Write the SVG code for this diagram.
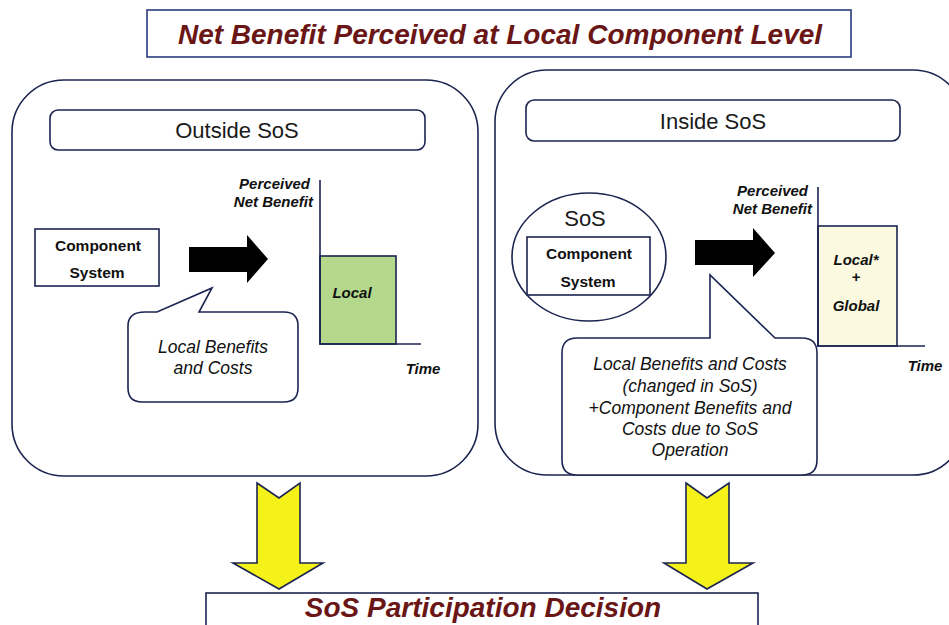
<svg xmlns="http://www.w3.org/2000/svg" width="949" height="625" viewBox="0 0 949 625">
<style>
.ln{fill:none;stroke:#1c2450;stroke-width:1.6}
.box{fill:#fff;stroke:#1c2450;stroke-width:1.6}
.hd{font-family:"Liberation Sans",Arial,sans-serif;font-weight:bold;font-style:italic;fill:#6a1616;text-anchor:middle}
.lbl{font-family:"Liberation Sans",Arial,sans-serif;font-size:22px;fill:#1a1a1a;text-anchor:middle}
.cs{font-family:"Liberation Sans",Arial,sans-serif;font-size:15.5px;font-weight:bold;fill:#111;text-anchor:middle}
.it{font-family:"Liberation Sans",Arial,sans-serif;font-size:17.5px;font-style:italic;fill:#111;text-anchor:middle}
.ax{font-family:"Liberation Sans",Arial,sans-serif;font-size:15px;font-style:italic;font-weight:bold;fill:#111}
.blk{fill:#000}
.yel{fill:#f5f219;stroke:#1c2450;stroke-width:1.6;stroke-linejoin:miter}
</style>
<rect width="949" height="625" fill="#fff"/>
<g id="title">
<rect x="147" y="10" width="704" height="47" fill="#fff" stroke="#2a3a80" stroke-width="1.6"/>
<text class="hd" x="500" y="44" font-size="28">Net Benefit Perceived at Local Component Level</text>
</g>
<g id="outside-panel">
<rect x="12" y="80" width="466" height="396" rx="52" class="box"/>
<rect x="50" y="110" width="375" height="40" rx="8" class="box"/>
<text class="lbl" x="237" y="138">Outside SoS</text>
</g>
<g id="outside-component">
<rect x="35" y="229" width="124" height="57" class="box"/>
<text class="cs" x="98" y="251">Component</text>
<text class="cs" x="97" y="278">System</text>
</g>
<g id="outside-arrow">
<polygon class="blk" points="189,247 247,247 247,235 268,259 247,283 247,272 189,272"/>
</g>
<g id="outside-bubble">
<path class="box" d="M145,312 L157,312 L212,288 L199,312 L284,312 Q298,312 298,326 L298,388 Q298,402 284,402 L142,402 Q128,402 128,388 L128,326 Q128,312 145,312 Z"/>
<text class="it" x="213" y="353">Local Benefits</text>
<text class="it" x="213" y="374">and Costs</text>
</g>
<g id="outside-chart">
<rect x="320" y="256" width="76" height="88" fill="#b4d98c" stroke="#1c2450" stroke-width="1.6"/>
<path class="ln" d="M320,180 L320,344 L421,344"/>
<text class="ax" x="310" y="189" text-anchor="end">Perceived</text>
<text class="ax" x="313" y="207" text-anchor="end">Net Benefit</text>
<text class="ax" x="352" y="298" text-anchor="middle" font-size="16">Local</text>
<text class="ax" x="423" y="374" text-anchor="middle" font-size="16">Time</text>
</g>
<g id="inside-panel">
<rect x="495" y="70" width="470" height="405" rx="52" class="box"/>
<rect x="526" y="100" width="374" height="41" rx="8" class="box"/>
<text class="lbl" x="713" y="129">Inside SoS</text>
</g>
<g id="inside-sos">
<ellipse cx="589" cy="257" rx="77" ry="64" class="box"/>
<text class="lbl" x="585" y="226">SoS</text>
<rect x="527" y="237" width="123" height="58" class="box"/>
<text class="cs" x="589" y="259">Component</text>
<text class="cs" x="588" y="287">System</text>
</g>
<g id="inside-arrow">
<polygon class="blk" points="695,240 753,240 753,228 775,253 753,277 753,265 695,265"/>
</g>
<g id="inside-bubble">
<path class="box" d="M577,338 L710,338 L710,275 L775,338 L802,338 Q817,338 817,353 L817,460 Q817,475 802,475 L577,475 Q562,475 562,460 L562,353 Q562,338 577,338 Z"/>
<text class="it" x="690" y="370">Local Benefits and Costs</text>
<text class="it" x="690" y="392">(changed in SoS)</text>
<text class="it" x="690" y="414">+Component Benefits and</text>
<text class="it" x="690" y="435">Costs due to SoS</text>
<text class="it" x="690" y="456">Operation</text>
</g>
<g id="inside-chart">
<rect x="818" y="226" width="79" height="120" fill="#fbfae0" stroke="#1c2450" stroke-width="1.6"/>
<path class="ln" d="M818,187 L818,346 L925,346"/>
<text class="ax" x="808" y="196" text-anchor="end">Perceived</text>
<text class="ax" x="812" y="214" text-anchor="end">Net Benefit</text>
<text class="ax" x="856" y="265" text-anchor="middle">Local*</text>
<text class="ax" x="856" y="282" text-anchor="middle">+</text>
<text class="ax" x="856" y="311" text-anchor="middle">Global</text>
<text class="ax" x="925" y="371" text-anchor="middle" font-size="16">Time</text>
</g>
<g id="connectors">
<polygon class="yel" points="257,483 279,498 300,483 300,563 323,563 279,589 233,563 257,563"/>
<polygon class="yel" points="686,483 707,498 729,483 729,563 753,563 707,589 664,563 686,563"/>
</g>
<g id="decision">
<rect x="206" y="593" width="552" height="40" fill="#fff" stroke="#1c2450" stroke-width="1.6"/>
<text class="hd" x="483" y="617" font-size="28">SoS Participation Decision</text>
</g>
</svg>
